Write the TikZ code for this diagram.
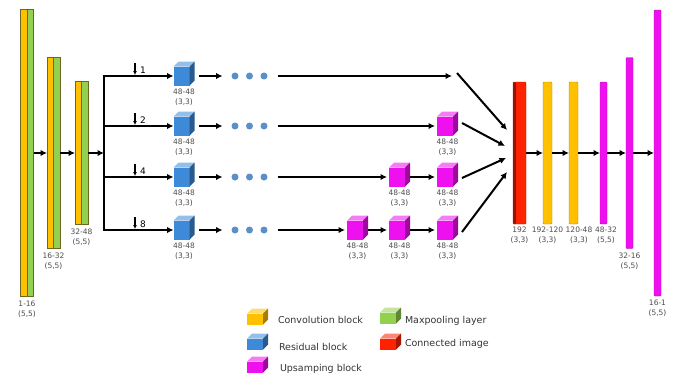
\documentclass[tikz,border=0pt]{standalone}
\usepackage{fontspec}
\setmainfont{DejaVu Sans}
\usetikzlibrary{arrows.meta,positioning}

\definecolor{convorange}{HTML}{FFC000}
\definecolor{poolgreen}{HTML}{92D050}
\definecolor{resblue}{HTML}{3D8BD8}
\definecolor{upmagenta}{HTML}{EE10EE}
\definecolor{catred}{HTML}{FF2200}
\definecolor{dotblue}{HTML}{5B8FC9}

% cube block: [style]{name}{position}{colour}
\newcommand{\boxcube}[4][cubefront]{%
  \node[#1, fill=#4] (#2) at (#3) {};
  \fill[#4!55!white] (#2.north west) -- ++(5,-5) -- ([shift={(5,-5)}]#2.north east) -- (#2.north east) -- cycle;
  \fill[#4!65!black] (#2.north east) -- ++(5,-5) -- ([shift={(5,-5)}]#2.south east) -- (#2.south east) -- cycle;
}

\begin{document}
\begin{tikzpicture}[x=1pt, y=-1pt, >={Latex[length=6.5pt,width=6.5pt]},
  every node/.style={inner sep=0pt, outer sep=0pt},
  lbl/.style={align=center, font=\fontsize{7.5}{10}\selectfont, text=black!70},
  legtext/.style={font=\fontsize{9.5}{11}\selectfont, text=black!80},
  dil/.style={font=\fontsize{9}{9}\selectfont},
  conn/.style={->, line width=2pt},
  trunk/.style={line width=2pt, line cap=rect},
  tick/.style={-{Latex[length=4pt,width=4pt]}, line width=1.2pt},
  encbar/.style={draw=olive!70!black, line width=0.4pt, fill=convorange,
    minimum width=13, minimum height=#1,
    path picture={\fill[poolgreen] (path picture bounding box.north) rectangle (path picture bounding box.south east);
      \draw[olive!70!black, line width=0.4pt] (path picture bounding box.north) -- (path picture bounding box.south);}},
  decbar/.style 2 args={draw=#1!75!black, line width=0.4pt, fill=#1,
    minimum width=#2, rounded corners=1pt},
  cubefront/.style={minimum width=16, minimum height=19},
  legcube/.style={minimum width=16, minimum height=11},
  dot/.style={circle, fill=dotblue, minimum size=7}
]
\useasboundingbox (0,0) rectangle (675,376);

% Encoder
\node[encbar=287] (enc1) at (27,153) {};
\node[encbar=191] (enc2) at (53.5,153) {};
\node[encbar=143] (enc3) at (81.5,153) {};
\node[lbl, below=4pt of enc1] (lenc1) {1-16\\(5,5)};
\node[lbl, below=4pt of enc2] (lenc2) {16-32\\(5,5)};
\node[lbl, below=4pt of enc3] (lenc3) {32-48\\(5,5)};
\draw[conn] (enc1) -- (enc2);
\draw[conn] (enc2) -- (enc3);
\coordinate (hub) at (104,153);
\draw[conn] (enc3) -- (hub);

% Dilated residual branches
\foreach \r/\y/\k in {1/76/1,2/126/2,3/177/4,4/230/8} {
  \coordinate (s\r) at (104,\y);
  \boxcube{res\r}{181.5,\y}{resblue}
  \node[lbl, below=3pt of res\r, xshift=2.5] (lres\r) {48-48\\(3,3)};
  \draw[conn] (s\r) -- (res\r);
  \coordinate (kt\r) at (135,{\y-13});
  \coordinate (kb\r) at (135,{\y-1});
  \draw[tick] (kt\r) -- (kb\r);
  \node[dil] (k\r) at (143,{\y-6}) {\k};
  \foreach \d/\dx in {1/235,2/249.5,3/264}
    \node[dot] (d\r\d) at (\dx,\y) {};
  \draw[conn, shorten <=9pt, shorten >=9pt] (res\r) -- (d\r1);
}
\draw[trunk] (s1) -- (s4);

% Upsampling blocks
\boxcube{up21}{445,126}{upmagenta}
\boxcube{up31}{397,177}{upmagenta}
\boxcube{up32}{445,177}{upmagenta}
\boxcube{up41}{355,230}{upmagenta}
\boxcube{up42}{397,230}{upmagenta}
\boxcube{up43}{445,230}{upmagenta}
\foreach \u in {up21,up31,up32,up41,up42,up43}
  \node[lbl, below=3pt of \u, xshift=2.5] (l\u) {48-48\\(3,3)};

\coordinate (e1) at (452,76);
\draw[conn, shorten <=10pt] (d13) -- (e1);
\draw[conn, shorten <=10pt, shorten >=2pt] (d23) -- (up21);
\draw[conn, shorten <=10pt, shorten >=2pt] (d33) -- (up31);
\draw[conn, shorten <=10pt, shorten >=2pt] (d43) -- (up41);
\draw[conn, shorten <=5pt, shorten >=2pt] (up31) -- (up32);
\draw[conn, shorten <=5pt, shorten >=2pt] (up41) -- (up42);
\draw[conn, shorten <=5pt, shorten >=2pt] (up42) -- (up43);

% Into the connected image
\coordinate (t1) at (457,73);
\coordinate (in1) at (507,130);
\coordinate (in2) at (505,146);
\coordinate (in3) at (506,158);
\coordinate (in4) at (507,172);
\draw[conn] (t1) -- (in1);
\draw[conn] ([shift={(9,-3)}]up21.east) -- (in2);
\draw[conn] ([shift={(9,1)}]up32.east) -- (in3);
\draw[conn] ([shift={(9,2)}]up43.east) -- (in4);

% Decoder
\node[decbar={catred}{13}, minimum height=142,
  path picture={\fill[catred!60!black] (path picture bounding box.north west) rectangle ([xshift=3pt]path picture bounding box.south west);}] (cat) at (519.5,153) {};
\node[decbar={convorange}{9}, minimum height=142] (dec1) at (547.5,153) {};
\node[decbar={convorange}{9}, minimum height=142] (dec2) at (573.5,153) {};
\node[decbar={upmagenta}{7}, minimum height=142] (dec3) at (603.5,153) {};
\node[decbar={upmagenta}{7}, minimum height=191] (dec4) at (629.5,153) {};
\node[decbar={upmagenta}{7}, minimum height=286] (dec5) at (657.5,153) {};
\node[lbl, below=3pt of cat] (lcat) {192\\(3,3)};
\node[lbl, below=3pt of dec1] (ldec1) {192-120\\(3,3)};
\node[lbl, below=3pt of dec2, xshift=5.5] (ldec2) {120-48\\(3,3)};
\node[lbl, below=3pt of dec3, xshift=2.5] (ldec3) {48-32\\(5,5)};
\node[lbl, below=4pt of dec4] (ldec4) {32-16\\(5,5)};
\node[lbl, below=4pt of dec5] (ldec5) {16-1\\(5,5)};
\draw[conn] (cat) -- (dec1);
\draw[conn] (dec1) -- (dec2);
\draw[conn] (dec2) -- (dec3);
\draw[conn] (dec3) -- (dec4);
\draw[conn] (dec4) -- (dec5);

% Legend
\boxcube[legcube]{kconv}{255,319}{convorange}
\boxcube[legcube]{kres}{255,344}{resblue}
\boxcube[legcube]{kup}{255,367}{upmagenta}
\boxcube[legcube]{kpool}{388,318}{poolgreen}
\boxcube[legcube]{kcat}{388,344}{catred}
\node[legtext, right=15pt of kconv, yshift=-1] (tconv) {Convolution block};
\node[legtext, right=16pt of kres, yshift=-3] (tres) {Residual block};
\node[legtext, right=17pt of kup, yshift=-2] (tup) {Upsamping block};
\node[legtext, right=9pt of kpool, yshift=-3] (tpool) {Maxpooling layer};
\node[legtext, right=9pt of kcat] (tcat) {Connected image};
\end{tikzpicture}
\end{document}
